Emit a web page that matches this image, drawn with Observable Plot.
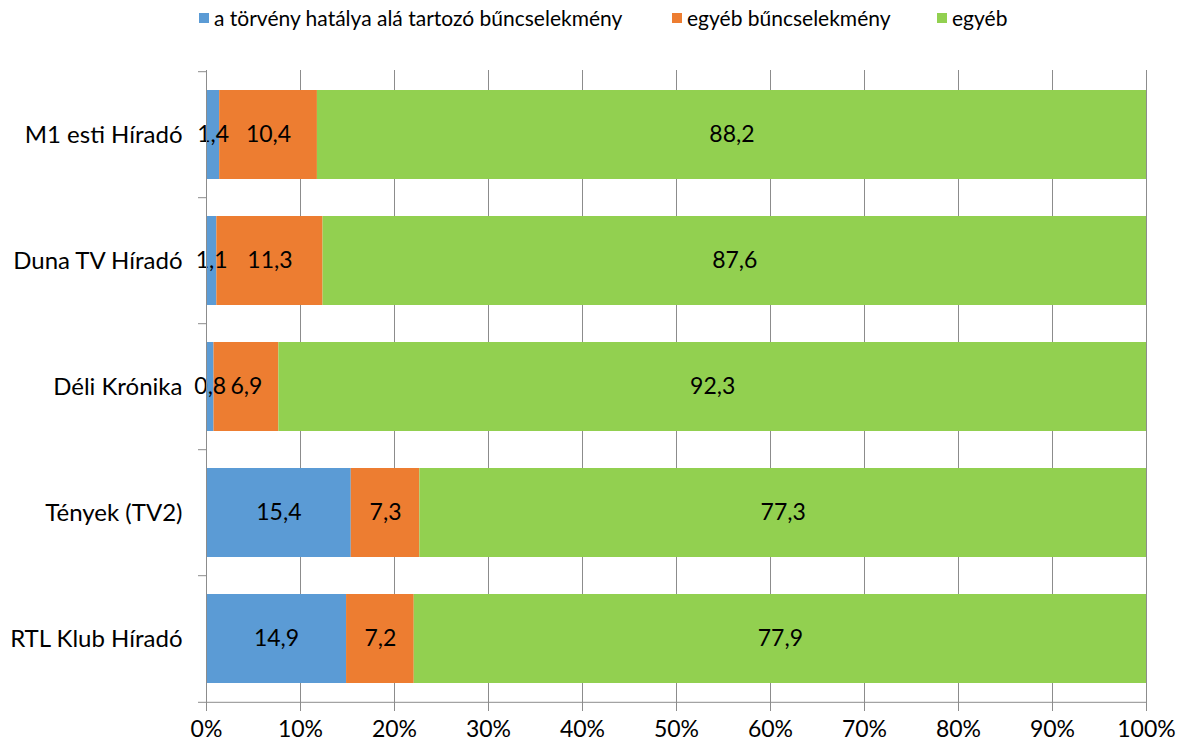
<!DOCTYPE html>
<html>
<head>
<meta charset="utf-8">
<script src="https://cdn.jsdelivr.net/npm/d3@7"></script>
<script src="https://cdn.jsdelivr.net/npm/@observablehq/plot@0.6"></script>
<style>
  html, body { margin: 0; padding: 0; background: #fff; }
  #wrap { position: relative; width: 1184px; }
  #legend { position: relative; height: 40px; font-family: Lato, "Open Sans", sans-serif; font-size: 21px; color: #000; }
  .item { position: absolute; top: 5px; display: flex; align-items: center; white-space: nowrap; }
  .sw { width: 10px; height: 10px; margin-right: 5px; }
</style>
</head>
<body>
<div id="wrap">
  <div id="legend"></div>
  <div id="chart"></div>
</div>
<script>
const categories = ["M1 esti Híradó", "Duna TV Híradó", "Déli Krónika", "Tények (TV2)", "RTL Klub Híradó"];
const series = ["a törvény hatálya alá tartozó bűncselekmény", "egyéb bűncselekmény", "egyéb"];
const colors = ["#5B9BD5", "#ED7D31", "#92D050"];
const valuesLaw = [1.4, 1.1, 0.8, 15.4, 14.9];
const valuesOtherCrime = [10.4, 11.3, 6.9, 7.3, 7.2];
const valuesOther = [88.2, 87.6, 92.3, 77.3, 77.9];
const xTicks = [0, 10, 20, 30, 40, 50, 60, 70, 80, 90, 100];

const seriesValues = [valuesLaw, valuesOtherCrime, valuesOther];
const data = [];
series.forEach((s, si) => {
  categories.forEach((c, ci) => {
    data.push({cat: c, series: s, value: seriesValues[si][ci]});
  });
});

// legend
const legendX = [199, 672, 937];
const legend = document.getElementById("legend");
series.forEach((s, i) => {
  const it = document.createElement("div");
  it.className = "item";
  it.style.left = legendX[i] + "px";
  it.innerHTML = `<span class="sw" style="background:${colors[i]}"></span><span>${s}</span>`;
  legend.appendChild(it);
});

const W = 1184, H = 709, mL = 206, mR = 38, mT = 30, mB = 46;
const step = (H - mT - mB) / categories.length;
const tickLen = 8 * 100 / (W - mL - mR);
const fmt = v => String(v).replace(".", ",");
const gridColor = "#8c8c8c";

const chart = Plot.plot({
  width: W, height: H,
  marginLeft: mL, marginRight: mR, marginTop: mT, marginBottom: mB,
  style: {fontFamily: "Lato, 'Open Sans', sans-serif", fontSize: "23px", color: "#000", background: "#fff"},
  x: {domain: [0, 100]},
  y: {domain: categories, paddingInner: 0.29, paddingOuter: 0.145},
  color: {domain: series, range: colors},
  marks: [
    Plot.gridX(xTicks, {stroke: gridColor, strokeOpacity: 1}),
    Plot.barX(data, {x: "value", y: "cat", fill: "series", order: null}),
    Plot.text(data, Plot.stackX({x: "value", y: "cat", z: "series", order: null, text: d => fmt(d.value), fill: "#000", fontSize: 23})),
    Plot.ruleX([0], {stroke: gridColor}),
    Plot.ruleY(categories, {y: d => d, dy: -step / 2, x1: -tickLen, x2: 0, stroke: gridColor, clip: false}),
    Plot.ruleY([categories[categories.length - 1]], {y: d => d, dy: step / 2, x1: -tickLen, x2: 100, stroke: gridColor}),
    Plot.axisX(xTicks, {tickSize: 8, tickPadding: 9, tickFormat: d => d + "%", stroke: gridColor, fill: "#000", label: null, fontSize: 23}),
    Plot.axisY({tickSize: 0, tickPadding: 24, label: null, fill: "#000", fontSize: 24})
  ]
});
document.getElementById("chart").appendChild(chart);
</script>
</body>
</html>
